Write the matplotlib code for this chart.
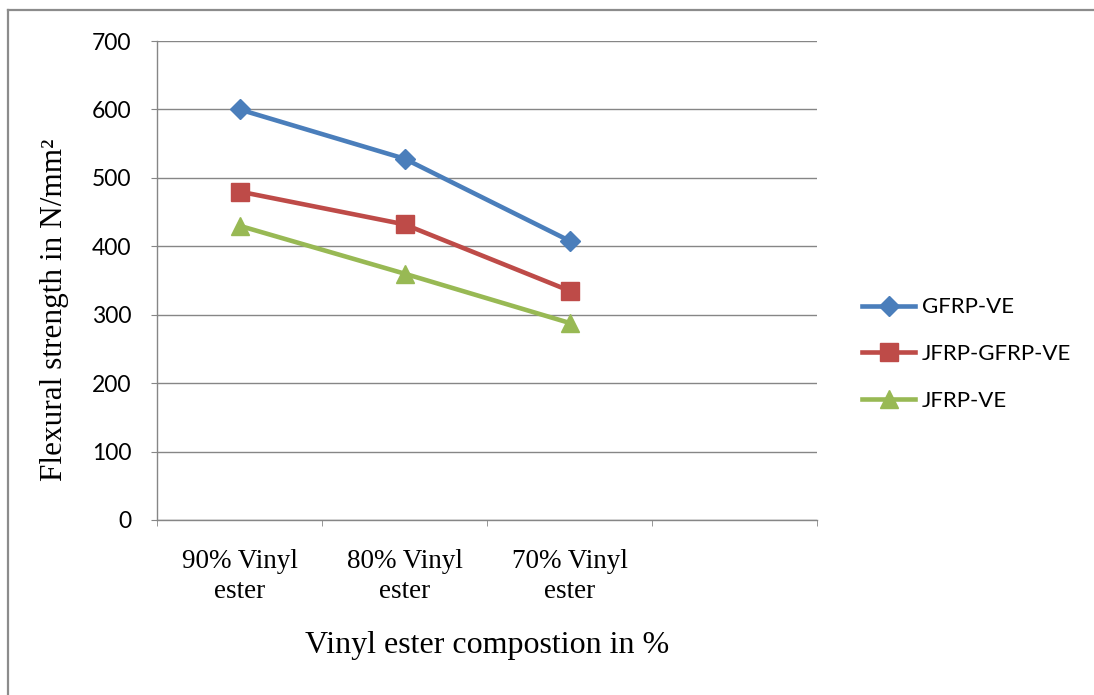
import numpy as np
import matplotlib as mpl
import matplotlib.pyplot as plt
from matplotlib.lines import Line2D
mpl.rcParams['font.family'] = 'Lato'

# categories on x axis (last slot is empty in the original)
categories = ['90% Vinyl\nester', '80% Vinyl\nester', '70% Vinyl\nester', '']
gfrp_ve = [600, 528, 408]
jfrp_gfrp_ve = [480, 432, 335]
jfrp_ve = [430, 360, 288]
yticks = [0, 100, 200, 300, 400, 500, 600, 700]

GRID = '#868686'
fig = plt.figure(figsize=(10.94, 6.95), dpi=100)
ax = fig.add_axes([157/1094, 1 - 520/695, (817-157)/1094, (520-41)/695])

x = np.arange(len(gfrp_ve))
ax.plot(x, gfrp_ve, color='#4A7EBB', lw=3.3, marker='D', ms=10, label='GFRP-VE', zorder=3)
ax.plot(x, jfrp_gfrp_ve, color='#BE4B48', lw=3.3, marker='s', ms=13.5, label='JFRP-GFRP-VE', zorder=3)
ax.plot(x, jfrp_ve, color='#98B954', lw=3.3, marker='^', ms=13, label='JFRP-VE', zorder=3)

ax.set_xlim(-0.5, len(categories) - 0.5)
ax.set_ylim(0, 700)
ax.set_yticks(yticks)
ax.yaxis.grid(True, color=GRID, lw=1)
ax.set_axisbelow(True)
for s in ['top', 'right']:
    ax.spines[s].set_visible(False)
for s in ['left', 'bottom']:
    ax.spines[s].set_color(GRID)
    ax.spines[s].set_linewidth(1)

ax.set_xticks(range(len(categories)))
ax.set_xticklabels(categories, fontfamily='Liberation Serif', fontsize=19.5, linespacing=1.25)
ax.set_xticks(np.arange(-0.5, len(categories)), minor=True)
ax.tick_params(axis='x', which='major', length=0, pad=21)
ax.tick_params(axis='x', which='minor', length=4.3, color=GRID, direction='out')
ax.tick_params(axis='y', length=4.3, color=GRID, direction='out', labelsize=16.5, pad=14)

fig.text(487/1094, 1 - 645/695, 'Vinyl ester compostion in %', family='Liberation Serif',
         fontsize=23, ha='center', va='center')
fig.text(55/1094, 1 - 310/695, 'Flexural strength in N/mm²', family='Liberation Serif',
         fontsize=22.5, ha='center', va='center', rotation=90)

fig.legend(loc='center left', bbox_to_anchor=(862/1094, 1 - 354/695), frameon=False,
           fontsize=16, handlelength=2.4, handletextpad=0.3, labelspacing=1.2,
           borderpad=0, borderaxespad=0)

# outer chart frame (only left and top edges are visible)
fig.add_artist(Line2D([8/1094, 8/1094], [0, 1 - 10/695], color='#8C8C8C', lw=1.6,
                      transform=fig.transFigure))
fig.add_artist(Line2D([8/1094, 1], [1 - 10/695, 1 - 10/695], color='#8C8C8C', lw=1.6,
                      transform=fig.transFigure))

fig.savefig('out.png', dpi=100)
